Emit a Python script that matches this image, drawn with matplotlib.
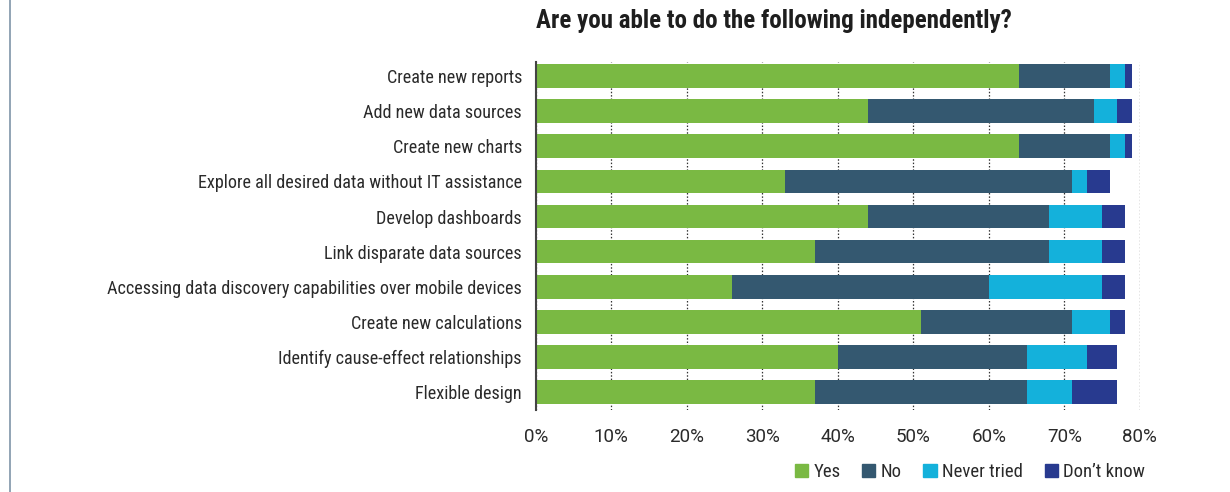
import matplotlib
matplotlib.use("Agg")
import matplotlib.pyplot as plt
from matplotlib.patches import Patch
import numpy as np

FAM = ['Roboto Condensed', 'DejaVu Sans']
plt.rcParams['font.family'] = FAM

categories = [
    "Create new reports",
    "Add new data sources",
    "Create new charts",
    "Explore all desired data without IT assistance",
    "Develop dashboards",
    "Link disparate data sources",
    "Accessing data discovery capabilities over mobile devices",
    "Create new calculations",
    "Identify cause-effect relationships",
    "Flexible design",
]
yes = [64, 44, 64, 33, 44, 37, 26, 51, 40, 37]
no = [12, 30, 12, 38, 24, 31, 34, 20, 25, 28]
never_tried = [2, 3, 2, 2, 7, 7, 15, 5, 8, 6]
dont_know = [1, 2, 1, 3, 3, 3, 3, 2, 4, 6]
series_names = ["Yes", "No", "Never tried", "Don\u2019t know"]
colors = ["#7ab943", "#345870", "#14b1db", "#283a8f"]
xticks = [0, 10, 20, 30, 40, 50, 60, 70, 80]
xtick_labels = ["0%", "10%", "20%", "30%", "40%", "50%", "60%", "70%", "80%"]
title = "Are you able to do the following independently?"

fig = plt.figure(figsize=(12.3, 4.92), dpi=100)
ax = fig.add_axes([535.8/1230, 1-410/492, (1139.8-535.8)/1230, (410-62)/492])

y = np.arange(len(categories))
left = np.zeros(len(categories))
for vals, c, name in zip([yes, no, never_tried, dont_know], colors, series_names):
    ax.barh(y, vals, left=left, height=0.675, color=c, label=name, zorder=3)
    left += np.array(vals)

ax.set_xlim(0, 80)
ax.set_ylim(9.51, -0.4)
ax.set_yticks(y)
ax.set_yticklabels(categories, fontsize=13.1, color="#2a2a2a")
ax.set_xticks(xticks)
ax.set_xticklabels(xtick_labels, fontsize=13.5, color="#2a2a2a",
                   family=['Roboto', 'DejaVu Sans'])
ax.tick_params(axis='y', length=0, pad=10)
ax.tick_params(axis='x', length=0, pad=13)
for s in ['top', 'right', 'bottom']:
    ax.spines[s].set_visible(False)
ax.spines['left'].set_color("#444444")
ax.spines['left'].set_linewidth(1.5)
ax.spines['left'].set_zorder(4)
ax.grid(axis='x', color="#333333", linestyle=(0, (1.2, 1.5)), linewidth=0.9, zorder=0)
ax.set_axisbelow(True)

fig.text(774/1230, 1-21/492, title, ha='center', va='center', fontsize=18,
         fontweight='bold', color="#1e1e1e", family=FAM)

handles = [Patch(color=c, label=n) for c, n in zip(colors, series_names)]
fig.legend(handles=handles, loc='center', bbox_to_anchor=(970/1230, 1-472/492), ncol=4,
           frameon=False, fontsize=13.5, handlelength=0.7, handleheight=0.7,
           handletextpad=0.3, columnspacing=1.15, labelcolor="#2a2a2a")

# left frame line
fig.add_artist(plt.Line2D([10/1230, 10/1230], [0, 1], color="#7f95a8", linewidth=1.2))

fig.savefig("out.png", dpi=100)
